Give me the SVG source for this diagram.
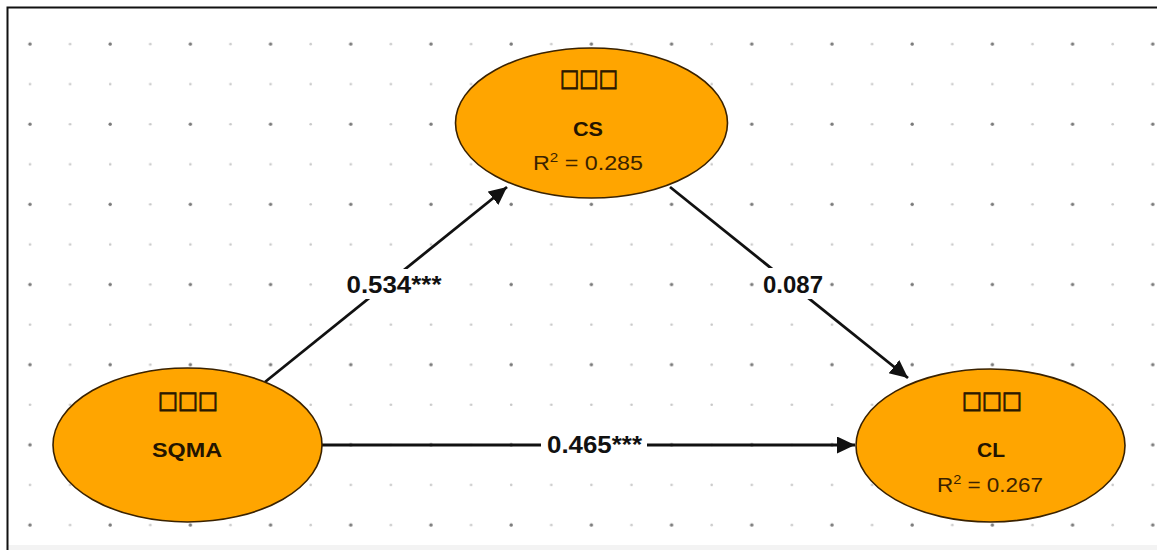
<svg xmlns="http://www.w3.org/2000/svg" width="1157" height="550" viewBox="0 0 1157 550">
  <style>
    .node ellipse { fill: #FFA500; stroke: #3a2200; stroke-width: 1.6; }
    .boxes { font-family: "DejaVu Sans", sans-serif; font-size: 24px; font-weight: bold; fill: #2a1800; stroke: #2a1800; stroke-width: 0.9; text-anchor: middle; }
    .name { font-family: "Liberation Sans", Arial, sans-serif; font-size: 21px; font-weight: bold; fill: #231400; text-anchor: middle; }
    .r2 { font-family: "Liberation Sans", Arial, sans-serif; font-size: 20px; fill: #3a2200; text-anchor: middle; }
    .edge { stroke: #111; stroke-width: 2.8; fill: none; }
    .elabel { font-family: "Liberation Sans", Arial, sans-serif; font-size: 23px; font-weight: bold; fill: #111; text-anchor: middle; }
    .lbg { fill: #fff; }
  </style>
  <defs>
    <marker id="arrow" markerUnits="userSpaceOnUse" markerWidth="20" markerHeight="18" refX="18" refY="8.5" orient="auto">
      <path d="M0,0 L18,8.5 L0,17 Z" fill="#111"/>
    </marker>
    <pattern id="grid" patternUnits="userSpaceOnUse" x="10" y="24" width="80.2" height="80.16">
      <circle cx="20" cy="20" r="1.7" fill="#7a7a7a"/>
      <circle cx="60.1" cy="20" r="1.3" fill="#c8c8c8"/>
      <circle cx="20" cy="60.08" r="1.3" fill="#c8c8c8"/>
      <circle cx="60.1" cy="60.08" r="1.3" fill="#c8c8c8"/>
    </pattern>
  </defs>

  <!-- canvas -->
  <rect x="0" y="0" width="1157" height="550" fill="#fff"/>
  <rect x="8" y="8" width="1149" height="537" fill="url(#grid)"/>
  <rect x="8" y="545" width="1149" height="5" fill="#f3f3f3"/>
  <path d="M7.5,550 L7.5,7.5 L1157,7.5" fill="none" stroke="#111" stroke-width="2"/>

  <!-- paths between constructs -->
  <g id="connectors">
    <line class="edge" x1="265" y1="382" x2="507" y2="187" marker-end="url(#arrow)"/>
    <line class="edge" x1="670" y1="187" x2="908" y2="378" marker-end="url(#arrow)"/>
    <line class="edge" x1="322" y1="445" x2="855" y2="445" marker-end="url(#arrow)"/>

    <rect class="lbg" x="343" y="269" width="102" height="30"/>
    <text class="elabel" x="394" y="293" textLength="95" lengthAdjust="spacingAndGlyphs">0.534***</text>

    <rect class="lbg" x="758" y="268" width="70" height="31"/>
    <text class="elabel" x="793" y="293" textLength="60" lengthAdjust="spacingAndGlyphs">0.087</text>

    <rect class="lbg" x="541" y="430" width="106" height="30"/>
    <text class="elabel" x="594.5" y="453" textLength="95" lengthAdjust="spacingAndGlyphs">0.465***</text>
  </g>

  <g id="node-CS" class="node">
    <ellipse cx="591.5" cy="123" rx="136" ry="75"/>
    <text class="boxes" x="589" y="86" textLength="58" lengthAdjust="spacingAndGlyphs">□□□</text>
    <text class="name" x="588" y="136" textLength="30" lengthAdjust="spacingAndGlyphs">CS</text>
    <text class="r2" x="588" y="170" textLength="110" lengthAdjust="spacingAndGlyphs">R<tspan dy="-8" font-size="13">2</tspan><tspan dy="8"> = 0.285</tspan></text>
  </g>

  <g id="node-SQMA" class="node">
    <ellipse cx="187.5" cy="445" rx="134.5" ry="77"/>
    <text class="boxes" x="188" y="408" textLength="60" lengthAdjust="spacingAndGlyphs">□□□</text>
    <text class="name" x="187" y="457" textLength="70" lengthAdjust="spacingAndGlyphs">SQMA</text>
  </g>

  <g id="node-CL" class="node">
    <ellipse cx="990.5" cy="445.5" rx="134.5" ry="76.5"/>
    <text class="boxes" x="992" y="408" textLength="60" lengthAdjust="spacingAndGlyphs">□□□</text>
    <text class="name" x="991" y="457" textLength="28" lengthAdjust="spacingAndGlyphs">CL</text>
    <text class="r2" x="990" y="492" textLength="106" lengthAdjust="spacingAndGlyphs">R<tspan dy="-8" font-size="13">2</tspan><tspan dy="8"> = 0.267</tspan></text>
  </g>
</svg>
